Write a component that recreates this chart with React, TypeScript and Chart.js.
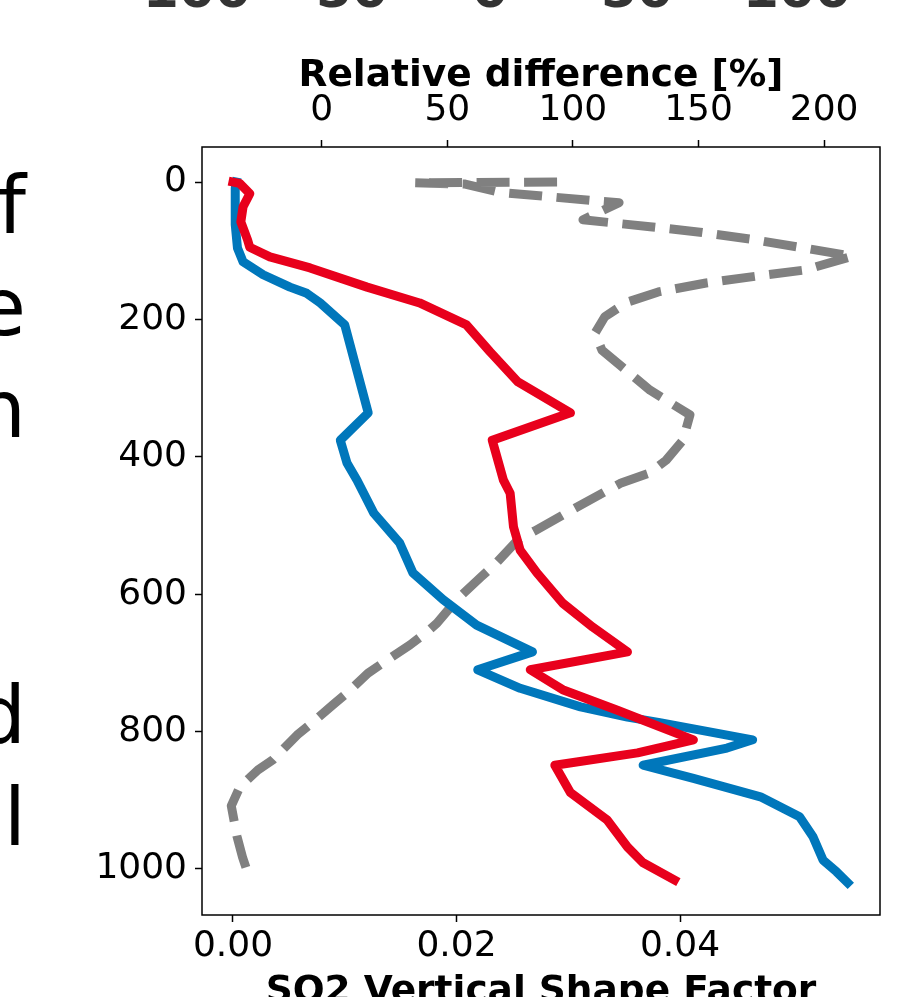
import React, { useEffect, useRef } from "react";
import { Chart, registerables } from "chart.js";

Chart.register(...registerables);

// ---- data (pressure level vs. value) ----
const blueLevels = [0, 9, 62, 96, 116, 135, 153, 162, 176, 208, 263, 336, 376, 409, 434, 482, 525, 569, 608, 645, 684, 710, 737, 764, 779, 787, 812, 824, 849, 868, 895, 924, 953, 987, 1004, 1020];
const blueFactor = [0.0003, 0.0002, 0.0002, 0.0004, 0.0009, 0.0027, 0.0051, 0.0066, 0.0078, 0.0100, 0.0109, 0.0121, 0.0096, 0.0102, 0.0111, 0.0126, 0.0149, 0.0161, 0.0188, 0.0218, 0.0268, 0.0219, 0.0257, 0.0311, 0.0353, 0.0382, 0.0465, 0.0442, 0.0367, 0.0412, 0.0472, 0.0507, 0.0519, 0.0528, 0.0540, 0.0550];

const redLevels = [0, 2, 17, 36, 58, 84, 95, 109, 125, 153, 176, 208, 247, 291, 336, 376, 434, 453, 502, 536, 569, 613, 648, 684, 710, 739, 769, 812, 831, 849, 889, 929, 968, 991, 1016];
const redFactor = [0.0000, 0.0006, 0.0015, 0.0009, 0.0007, 0.0013, 0.0015, 0.0033, 0.0069, 0.0120, 0.0167, 0.0209, 0.0230, 0.0255, 0.0302, 0.0232, 0.0242, 0.0248, 0.0251, 0.0257, 0.0272, 0.0295, 0.0322, 0.0353, 0.0266, 0.0295, 0.0344, 0.0412, 0.0362, 0.0288, 0.0302, 0.0335, 0.0353, 0.0367, 0.0395];

const grayLevels = [0, 1, 3, 15, 28, 30, 55, 65, 73, 83, 95, 108, 128, 137, 147, 160, 175, 196, 220, 245, 269, 303, 339, 376, 405, 424, 438, 473, 507, 521, 555, 575, 608, 642, 655, 674, 696, 715, 744, 761, 790, 805, 841, 856, 880, 908, 953, 983, 1016];
const grayDiff = [93.7, 37.1, 57.1, 71, 110.8, 118.4, 104, 130.7, 150.6, 170.5, 190.4, 211.3, 192.4, 173, 153, 134, 121.5, 112.7, 108.8, 111.6, 119.5, 130.7, 146.6, 143.8, 137.1, 130.3, 119.2, 101.7, 85.2, 78.1, 69.4, 63.4, 53.8, 45.9, 41.9, 35.1, 26, 18.4, 10, 4.5, -4.7, -9.8, -19.4, -25.4, -32.5, -36, -33.7, -31.5, -28.5];

const yTicks = [0, 200, 400, 600, 800, 1000];
const bottomTicks = [0, 0.02, 0.04];
const topTicks = [0, 50, 100, 150, 200];

const bottomTitle = "SO2 Vertical Shape Factor";
const topTitle = "Relative difference [%]";

// cropped fragments of neighbouring content
const leftFragments = ["f", "e", "n", "d", "l"];
const leftFragmentLines = [0, 1, 2, 5, 6];
const topFragments = ["100", "50", "0", "50", "100"];
const topFragmentCenters = [197, 352, 490, 637, 797];

const FONT = "DejaVu Sans";
const BLUE = "#0077BB";
const RED = "#E8001C";
const GRAY = "#808080";

export default function App() {
  const ref = useRef<HTMLCanvasElement>(null);

  useEffect(() => {
    const canvas = ref.current;
    if (!canvas) return;

    const framePlugin = {
      id: "frame",
      afterDatasetsDraw(chart: any) {
        const { ctx, chartArea } = chart;
        ctx.save();
        ctx.strokeStyle = "#000";
        ctx.lineWidth = 1.5;
        ctx.strokeRect(chartArea.left, chartArea.top, chartArea.right - chartArea.left, chartArea.bottom - chartArea.top);
        ctx.restore();
      },
    };

    const fragmentsPlugin = {
      id: "fragments",
      afterDraw(chart: any) {
        const { ctx } = chart;
        ctx.save();
        ctx.fillStyle = "#000";
        ctx.font = `80px "${FONT}"`;
        ctx.textAlign = "right";
        ctx.textBaseline = "alphabetic";
        leftFragments.forEach((t, i) => {
          ctx.fillText(t, 26, 233 + 102 * leftFragmentLines[i]);
        });
        ctx.fillStyle = "#333";
        ctx.font = `bold 52px "${FONT}"`;
        ctx.textAlign = "center";
        topFragments.forEach((t, i) => {
          ctx.fillText(t, topFragmentCenters[i], 7);
        });
        ctx.restore();
      },
    };

    const tickFont = { family: FONT, size: 36 };
    const titleFont = { family: FONT, size: 37.5, weight: "bold" as const };
    const gridCfg = {
      display: true,
      drawOnChartArea: false,
      drawTicks: true,
      tickLength: 7,
      tickColor: "#000",
      tickWidth: 1.5,
    };

    const chart = new Chart(canvas, {
      type: "scatter",
      data: {
        datasets: [
          {
            label: "red",
            data: redLevels.map((p, i) => ({ x: redFactor[i], y: p })),
            xAxisID: "x",
            yAxisID: "y",
            borderColor: RED,
            backgroundColor: RED,
            borderWidth: 9,
            showLine: true,
            pointRadius: 0,
            borderCapStyle: "square",
            borderJoinStyle: "round",
          },
          {
            label: "blue",
            data: blueLevels.map((p, i) => ({ x: blueFactor[i], y: p })),
            xAxisID: "x",
            yAxisID: "y",
            borderColor: BLUE,
            backgroundColor: BLUE,
            borderWidth: 9,
            showLine: true,
            pointRadius: 0,
            borderCapStyle: "square",
            borderJoinStyle: "round",
          },
          {
            label: "gray",
            data: grayLevels.map((p, i) => ({ x: grayDiff[i], y: p })),
            xAxisID: "x2",
            yAxisID: "y",
            borderColor: GRAY,
            backgroundColor: GRAY,
            borderWidth: 9,
            borderDash: [33, 14.5],
            showLine: true,
            pointRadius: 0,
            borderCapStyle: "butt",
            borderJoinStyle: "round",
          },
        ],
      },
      options: {
        responsive: false,
        animation: false,
        devicePixelRatio: 1,
        layout: { padding: { left: 0, right: 35, top: 0, bottom: 0 } },
        plugins: {
          legend: { display: false },
          tooltip: { enabled: false },
        },
        scales: {
          x: {
            type: "linear",
            position: "bottom",
            min: -0.002774,
            max: 0.057897,
            afterBuildTicks: (s: any) => {
              s.ticks = bottomTicks.map((v) => ({ value: v }));
            },
            afterFit: (s: any) => {
              s.height = 82;
            },
            ticks: {
              font: tickFont,
              color: "#000",
              padding: 3,
              maxRotation: 0,
              autoSkip: false,
              callback: (v: any) => Number(v).toFixed(2),
            },
            grid: gridCfg,
            border: { display: false },
            title: {
              display: true,
              text: bottomTitle,
              font: titleFont,
              color: "#000",
              padding: { top: 0, bottom: -17.5 },
            },
          },
          x2: {
            type: "linear",
            position: "top",
            min: -47.65,
            max: 222.25,
            afterBuildTicks: (s: any) => {
              s.ticks = topTicks.map((v) => ({ value: v }));
            },
            afterFit: (s: any) => {
              s.height = 147;
            },
            ticks: {
              font: tickFont,
              color: "#000",
              padding: 8,
              maxRotation: 0,
              autoSkip: false,
              callback: (v: any) => String(Math.round(Number(v))),
            },
            grid: gridCfg,
            border: { display: false },
            title: {
              display: true,
              text: topTitle,
              font: titleFont,
              color: "#000",
              padding: { top: 54, bottom: 0 },
            },
          },
          y: {
            type: "linear",
            position: "left",
            reverse: true,
            min: -51,
            max: 1067,
            afterBuildTicks: (s: any) => {
              s.ticks = yTicks.map((v) => ({ value: v }));
            },
            afterFit: (s: any) => {
              s.width = 202;
            },
            ticks: {
              font: tickFont,
              color: "#000",
              padding: 8,
              autoSkip: false,
              callback: (v: any) => String(Math.round(Number(v))),
            },
            grid: gridCfg,
            border: { display: false },
          },
        },
      } as any,
      plugins: [framePlugin, fragmentsPlugin],
    });

    return () => chart.destroy();
  }, []);

  return (
    <div style={{ position: "absolute", left: 0, top: 0, width: 915, height: 997, background: "#fff" }}>
      <canvas ref={ref} width={915} height={997} style={{ display: "block" }} />
    </div>
  );
}
